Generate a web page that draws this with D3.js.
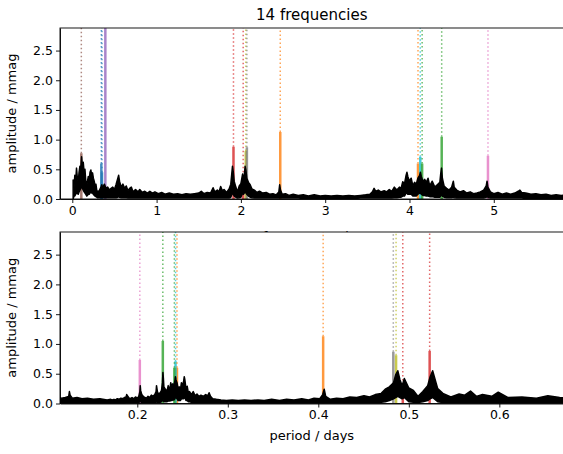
<!DOCTYPE html>
<html>
<head>
<meta charset="utf-8">
<script src="https://cdn.jsdelivr.net/npm/d3@7"></script>
<style>
  body { margin: 0; background: #fff; }
  text { font-family: "DejaVu Sans", sans-serif; fill: #000; }
  .tick text { font-size: 12.5px; }
  .domain, .tick line { stroke: #000; stroke-width: 0.9; }
</style>
</head>
<body>
<svg class="chart"></svg>
<script>
// periodogram (frequency in 1/d, amplitude in mmag)
// ampHigh / ampLow are the top and bottom of the noisy black band
var freq = [
  0.00,0.01,0.02,0.03,0.04,0.05,0.06,0.07,0.08,0.09,
  0.10,0.11,0.12,0.13,0.14,0.15,0.16,0.17,0.18,0.19,
  0.20,0.21,0.22,0.23,0.24,0.25,0.26,0.27,0.28,0.29,
  0.30,0.32,0.34,0.35,0.36,0.38,0.40,0.42,0.44,0.46,
  0.48,0.50,0.52,0.54,0.55,0.56,0.58,0.60,0.62,0.64,
  0.66,0.68,0.70,0.72,0.75,0.78,0.80,0.83,0.86,0.89,
  0.92,0.95,0.98,1.02,1.06,1.10,1.15,1.20,1.25,1.30,
  1.35,1.40,1.45,1.50,1.53,1.56,1.60,1.64,1.67,1.69,
  1.72,1.74,1.76,1.78,1.80,1.83,1.86,1.88,1.90,1.91,
  1.92,1.94,1.96,1.98,2.00,2.02,2.03,2.04,2.05,2.06,
  2.07,2.09,2.11,2.13,2.16,2.19,2.22,2.26,2.30,2.34,
  2.38,2.42,2.45,2.46,2.47,2.49,2.53,2.57,2.62,2.68,
  2.74,2.80,2.87,2.94,3.00,3.07,3.14,3.21,3.28,3.35,
  3.42,3.48,3.53,3.56,3.58,3.60,3.63,3.66,3.70,3.73,
  3.76,3.79,3.82,3.85,3.88,3.90,3.92,3.94,3.96,3.97,
  3.98,4.00,4.02,4.04,4.06,4.08,4.10,4.12,4.13,4.14,
  4.16,4.18,4.20,4.22,4.24,4.27,4.30,4.33,4.36,4.37,
  4.38,4.39,4.41,4.44,4.47,4.50,4.52,4.53,4.56,4.60,
  4.64,4.68,4.72,4.76,4.80,4.84,4.88,4.91,4.92,4.93,
  4.96,5.00,5.05,5.10,5.15,5.20,5.25,5.29,5.31,5.33,
  5.38,5.44,5.50,5.56,5.62,5.68,5.74,5.80,5.86,6.00,
  6.30,6.60,6.90,7.20,7.50,7.80,7.95,8.00,8.05,8.30,
  8.60,8.80];
var ampHigh = [
  .05,.32,.20,.40,.30,.52,.35,.28,.45,.55,
  .50,.71,.55,.62,.45,.50,.30,.20,.30,.38,
  .30,.45,.49,.40,.44,.35,.30,.22,.25,.15,
  .12,.14,.20,.24,.18,.25,.18,.20,.15,.18,
  .20,.16,.25,.35,.40,.30,.20,.25,.18,.22,
  .14,.18,.20,.12,.16,.12,.16,.11,.13,.10,
  .13,.10,.12,.09,.11,.08,.10,.08,.09,.07,
  .09,.08,.09,.10,.13,.09,.11,.10,.19,.12,
  .15,.12,.21,.14,.16,.11,.17,.25,.55,.45,
  .30,.20,.12,.22,.26,.42,.30,.40,.55,.48,
  .35,.28,.24,.17,.15,.11,.13,.10,.11,.08,
  .09,.07,.12,.24,.15,.08,.09,.06,.08,.06,
  .07,.05,.07,.05,.06,.05,.06,.05,.06,.05,
  .06,.07,.08,.12,.18,.13,.15,.12,.14,.12,
  .16,.13,.20,.15,.20,.18,.29,.25,.40,.45,
  .38,.30,.35,.22,.28,.25,.35,.40,.45,.38,
  .30,.33,.28,.35,.22,.30,.20,.24,.28,.42,
  .52,.35,.22,.18,.15,.20,.30,.20,.15,.12,
  .14,.10,.12,.09,.10,.12,.15,.22,.30,.20,
  .12,.09,.11,.08,.10,.08,.10,.13,.15,.11,
  .10,.08,.09,.07,.08,.06,.07,.06,.07,.06,
  .08,.07,.09,.08,.10,.09,.14,.20,.12,.10,
  .09,.10];
var ampLow = [
  .00,.00,.05,.05,.08,.10,.10,.08,.12,.15,
  .18,.20,.18,.15,.12,.10,.08,.05,.06,.08,
  .08,.10,.12,.10,.10,.08,.06,.05,.04,.03,
  .02,.02,.02,.02,.02,.02,.02,.02,.02,.02,
  .02,.02,.02,.03,.05,.03,.02,.02,.02,.02,
  .015,.015,.015,.015,.015,.015,.015,.015,.015,.015,
  .015,.015,.015,.015,.015,.015,.015,.015,.015,.015,
  .015,.015,.015,.015,.015,.015,.015,.015,.015,.015,
  .015,.015,.015,.015,.015,.015,.015,.03,.10,.08,
  .05,.03,.015,.02,.03,.10,.08,.10,.12,.10,
  .08,.05,.03,.02,.015,.015,.015,.015,.015,.015,
  .015,.015,.015,.015,.015,.015,.015,.015,.015,.015,
  .01,.01,.01,.01,.01,.01,.01,.01,.01,.01,
  .015,.015,.015,.015,.015,.015,.015,.015,.015,.015,
  .015,.015,.02,.02,.03,.03,.05,.05,.10,.10,
  .08,.08,.08,.05,.05,.05,.08,.10,.10,.08,
  .06,.06,.05,.05,.04,.04,.03,.03,.03,.05,
  .08,.05,.03,.02,.02,.02,.03,.02,.015,.015,
  .015,.015,.015,.015,.015,.015,.015,.03,.05,.03,
  .015,.015,.015,.015,.015,.015,.015,.015,.015,.015,
  .01,.01,.01,.01,.01,.01,.01,.01,.01,.01,
  .01,.01,.01,.01,.01,.01,.01,.01,.01,.01,
  .01,.01];

// the 14 extracted frequencies
var peakFreq = [0.107,0.344,0.352,0.392,1.912,2.027,2.058,2.071,2.467,4.101,4.128,4.150,4.382,4.931];
var peakAmp  = [0.77,0.60,0.45,3.50,0.88,0.25,0.81,0.87,1.13,0.60,0.71,0.60,1.05,0.73];
var peakColor = ["#8c564b","#1f77b4","#1f77b4","#9467bd","#d62728","#d62728","#bcbd22","#7f7f7f",
  "#ff7f0e","#ff7f0e","#17becf","#2ca02c","#2ca02c","#e377c2"];

var yTicks = [0, 0.5, 1.0, 1.5, 2.0, 2.5];
var freqTicks = [0, 1, 2, 3, 4, 5];
var periodTicks = [0.2, 0.3, 0.4, 0.5, 0.6];

var W = 563, H = 454;
var margin = {left: 60, right: -0.5};
var topPanel = {top: 28, bottom: 199};
var botPanel = {top: 232, bottom: 403.5};

var spec = freq.map(function(f, i) { return {f: f, hi: ampHigh[i], lo: ampLow[i]}; });
var peaks = peakFreq.map(function(f, i) { return {f: f, a: peakAmp[i], c: peakColor[i]}; });

var xTop = d3.scaleLinear().domain([-0.146, 5.827]).range([margin.left, W - margin.right]);
var xBot = d3.scaleLinear().domain([0.1146, 0.6709]).range([margin.left, W - margin.right]);
var yTop = d3.scaleLinear().domain([0, 2.88]).range([topPanel.bottom, topPanel.top]);
var yBot = d3.scaleLinear().domain([0, 2.88]).range([botPanel.bottom, botPanel.top]);

var svg = d3.select(".chart").attr("width", W).attr("height", H);

svg.append("text")
    .attr("x", (margin.left + W - margin.right) / 2)
    .attr("y", 20)
    .attr("text-anchor", "middle")
    .style("font-size", "15px")
    .text("14 frequencies");

function identity(f) { return f; }

function panel(x, y, xval, ticks, fmt, xlabel, labelDy, id) {
  var g = svg.append("g");
  var y0 = y.range()[0], y1 = y.range()[1];

  // white face, also hides the top panel's x label like in the original
  g.append("rect")
      .attr("x", margin.left).attr("y", y1)
      .attr("width", W - margin.right - margin.left).attr("height", y0 - y1)
      .attr("fill", "#fff");

  svg.append("clipPath").attr("id", id)
    .append("rect")
      .attr("x", margin.left).attr("y", y1)
      .attr("width", W - margin.right - margin.left).attr("height", y0 - y1);

  var plot = g.append("g").attr("clip-path", "url(#" + id + ")");

  // solid part of each frequency marker, from 0 up to its amplitude
  plot.selectAll(".solid").data(peaks).enter().append("line")
      .attr("x1", d => x(xval(d.f))).attr("x2", d => x(xval(d.f)))
      .attr("y1", y(0)).attr("y2", d => y(d.a))
      .attr("stroke", d => d.c).attr("stroke-width", 2.5).attr("stroke-opacity", 0.8);

  // dotted part above the amplitude
  plot.selectAll(".dot").data(peaks).enter().append("line")
      .attr("x1", d => x(xval(d.f))).attr("x2", d => x(xval(d.f)))
      .attr("y1", d => y(d.a)).attr("y2", y(2.88))
      .attr("stroke", d => d.c).attr("stroke-width", 1.5).attr("stroke-opacity", 0.7)
      .attr("stroke-dasharray", "1.5,2.5");

  var pts = spec.filter(d => d.f > 0)
      .map(d => ({x: xval(d.f), hi: d.hi, lo: d.lo}))
      .sort((a, b) => a.x - b.x);

  var area = d3.area()
      .x(d => x(d.x)).y0(d => y(d.lo)).y1(d => y(d.hi));

  plot.append("path")
      .attr("d", area(pts))
      .attr("fill", "#000").attr("stroke", "#000")
      .attr("stroke-width", 1.5).attr("stroke-linejoin", "round");

  g.append("g")
      .attr("transform", "translate(0," + y0 + ")")
      .call(d3.axisBottom(x).tickValues(ticks).tickFormat(fmt).tickSize(4).tickPadding(3).tickSizeOuter(0));

  g.append("g")
      .attr("transform", "translate(" + margin.left + ",0)")
      .call(d3.axisLeft(y).tickValues(yTicks).tickFormat(d3.format(".1f")).tickSize(4).tickPadding(3).tickSizeOuter(0));

  // frame
  g.append("rect")
      .attr("x", margin.left).attr("y", y1)
      .attr("width", W - margin.right - margin.left).attr("height", y0 - y1)
      .attr("fill", "none").attr("stroke", "#000").attr("stroke-width", 0.9);

  g.append("text")
      .attr("transform", "translate(16," + (y0 + y1) / 2 + ") rotate(-90)")
      .attr("text-anchor", "middle")
      .style("font-size", "13px")
      .text("amplitude / mmag");

  g.append("text")
      .attr("x", (margin.left + W - margin.right) / 2)
      .attr("y", y0 + labelDy)
      .attr("text-anchor", "middle")
      .style("font-size", "13px")
      .text(xlabel);
}

panel(xTop, yTop, identity, freqTicks, d3.format("d"), "frequency / d\u207B\u00B9", 42, "clipTop");
panel(xBot, yBot, f => 1 / f, periodTicks, d3.format(".1f"), "period / days", 36, "clipBot");
</script>
</body>
</html>
